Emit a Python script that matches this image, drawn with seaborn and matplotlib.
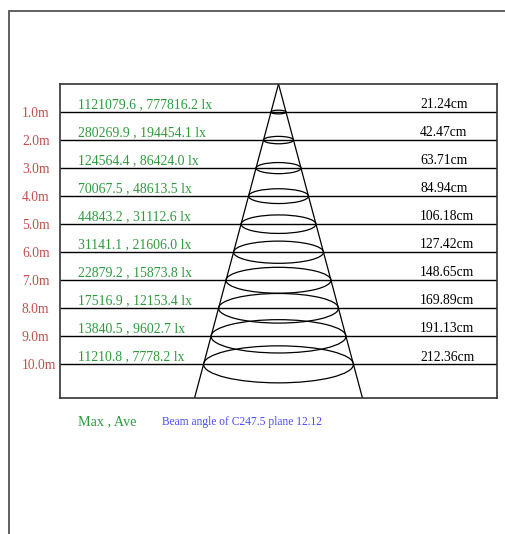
import numpy as np
import pandas as pd
import matplotlib
matplotlib.use("Agg")
import matplotlib.pyplot as plt
import matplotlib.transforms as mtransforms
from matplotlib.patches import Ellipse
from matplotlib.lines import Line2D
import seaborn as sns

sns.set_style('white')
plt.rcParams['font.family'] = ['Liberation Serif', 'DejaVu Serif']

# data
distances = [1.0, 2.0, 3.0, 4.0, 5.0, 6.0, 7.0, 8.0, 9.0, 10.0]
lux_max = [1121079.6, 280269.9, 124564.4, 70067.5, 44843.2,
           31141.1, 22879.2, 17516.9, 13840.5, 11210.8]
lux_ave = [777816.2, 194454.1, 86424.0, 48613.5, 31112.6,
           21606.0, 15873.8, 12153.4, 9602.7, 7778.2]
diameters = [21.24, 42.47, 63.71, 84.94, 106.18,
             127.42, 148.65, 169.89, 191.13, 212.36]
beam_angle = 12.12
plane = 'C247.5'

RED = '#c0504d'
GREEN = '#2e9a3e'
BLUE = '#4a4aff'

y_max = 11.2
x_width = 619.0
x_mid = x_width / 2

fig = plt.figure(figsize=(5.05, 5.34), dpi=100)
ax = fig.add_axes([60 / 505, 136 / 534, 437 / 505, 314 / 534])
ax.set_xlim(0, x_width)
ax.set_ylim(y_max, 0)

# distance lines
ax.hlines(distances, 0, x_width, color='black', lw=1.0)

# cone edges
half = y_max * np.tan(np.radians(beam_angle / 2)) * 100
cone = pd.DataFrame({
    'x': [x_mid, x_mid - half, x_mid, x_mid + half],
    'y': [0, y_max, 0, y_max],
    'side': ['l', 'l', 'r', 'r'],
})
sns.lineplot(data=cone, x='x', y='y', units='side', estimator=None,
             color='black', lw=0.9, sort=False, ax=ax)

# beam spot ellipses
squash = 1.32 / 212.36
for d, dia in zip(distances, diameters):
    ax.add_patch(Ellipse((x_mid, d), dia, dia * squash, fill=False,
                         edgecolor='black', lw=0.9))

tr = mtransforms.blended_transform_factory(ax.transAxes, ax.transData)
for d, mx, av, dia in zip(distances, lux_max, lux_ave, diameters):
    ax.text(0.041, d - 0.03, f'{mx:.1f} , {av:.1f} lx', transform=tr,
            color=GREEN, fontsize=9.9, ha='left', va='bottom')
    ax.text(0.824, d - 0.03, f'{dia:.2f}cm', transform=tr,
            color='black', fontsize=9.8, ha='left', va='bottom')

ax.set_xticks([])
ax.set_yticks(distances)
ax.set_yticklabels([f'{d:.1f}m' for d in distances], color=RED, fontsize=9.8)
ax.tick_params(axis='y', length=0, pad=27.4)
for lab in ax.get_yticklabels():
    lab.set_ha('left')
ax.set_xlabel('')
ax.set_ylabel('')
for s in ax.spines.values():
    s.set_visible(True)
    s.set_color('#333333')
    s.set_linewidth(1.2)

ax.text(0.041, -0.076, 'Max , Ave', transform=ax.transAxes, color=GREEN,
        fontsize=10.2, ha='left', va='center')
ax.text(0.233, -0.076, f'Beam angle of {plane} plane {beam_angle:.2f}',
        transform=ax.transAxes, color=BLUE, fontsize=8.3, ha='left',
        va='center')

# outer page frame
fig.add_artist(Line2D([9 / 505, 9 / 505], [0, 1 - 11 / 534],
                      color='#555555', lw=1.3))
fig.add_artist(Line2D([9 / 505, 1], [1 - 11 / 534, 1 - 11 / 534],
                      color='#555555', lw=1.3))

fig.savefig('out.png', dpi=100)
